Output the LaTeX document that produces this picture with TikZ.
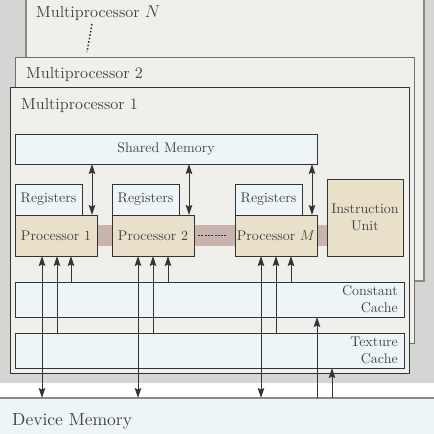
\documentclass[tikz,border=0pt]{standalone}
\usepackage{fontspec}
\setmainfont{lmroman10-regular.otf}[ItalicFont=lmroman10-italic.otf, BoldFont=lmroman10-bold.otf]
\usetikzlibrary{arrows.meta}
\definecolor{bggray}{HTML}{D3D6D2}
\definecolor{mpfill}{HTML}{EFEFEC}
\definecolor{lblue}{HTML}{EEF5F8}
\definecolor{beige}{HTML}{E8E0C8}
\definecolor{busc}{HTML}{C8B3AE}
\definecolor{linedark}{HTML}{333333}
\definecolor{textgray}{HTML}{444444}
\definecolor{framegray}{HTML}{8A8A8A}
\definecolor{framemid}{HTML}{707070}
\begin{document}
\begin{tikzpicture}[x=1pt,y=-1pt,
  frame/.style={draw=linedark, fill=mpfill, line width=0.9pt, inner sep=0pt, outer sep=0pt, anchor=north west},
  box/.style={draw=linedark, line width=0.9pt, inner sep=0pt, outer sep=0pt, anchor=north west, text=textgray, font=\fontsize{14}{17}\selectfont},
  bluebox/.style={box, fill=lblue},
  procbox/.style={box, fill=beige},
  biglabel/.style={anchor=base west, inner sep=0pt, text=textgray, font=\fontsize{16}{19}\selectfont},
  arr/.style={draw=linedark, line width=0.9pt, -{Stealth[length=10pt,width=6.5pt,inset=1.5pt]}},
  biarr/.style={draw=linedark, line width=0.9pt, {Stealth[length=10pt,width=6.5pt,inset=1.5pt]}-{Stealth[length=10pt,width=6.5pt,inset=1.5pt]}}
]
\useasboundingbox (0,0) rectangle (434,434);
% device background
\fill[bggray] (0,0) rectangle (434,383);
% multiprocessor frames
\node[frame, draw=framegray, line width=1.5pt, minimum width=398, minimum height=301] (mpN) at (26,-20) {};
\node[biglabel] (mpNl) at (36,17) {Multiprocessor $N$};
\coordinate (dA) at (92,24);
\coordinate (dB) at (87,52);
\draw[linedark, dotted, line width=1.5pt] (dA) -- (dB);
\node[frame, draw=framemid, minimum width=399, minimum height=286] (mp2) at (15,57) {};
\node[biglabel] (mp2l) at (26,78) {Multiprocessor 2};
\node[frame, minimum width=399, minimum height=286] (mp1) at (10,87) {};
\node[biglabel] (mp1l) at (21,109) {Multiprocessor 1};
% shared memory
\node[bluebox, minimum width=302, minimum height=30] (shm) at (15,134) {Shared Memory};
% bus
\node[fill=busc, inner sep=0pt, outer sep=0pt, anchor=north west, minimum width=230, minimum height=21] (bus) at (97,225) {};
% registers and processors
\node[bluebox, minimum width=67, minimum height=31] (r1) at (15,184) {Registers};
\node[procbox, minimum width=82, minimum height=41] (p1) at (15,215) {Processor 1};
\node[bluebox, minimum width=67, minimum height=31] (r2) at (112,184) {Registers};
\node[procbox, minimum width=82, minimum height=41] (p2) at (112,215) {Processor 2};
\node[bluebox, minimum width=67, minimum height=31] (rM) at (235,184) {Registers};
\node[procbox, minimum width=82, minimum height=41] (pM) at (235,215) {Processor $M$};
\node[procbox, minimum width=76, minimum height=77, align=center] (iu) at (327,179) {Instruction\\Unit};
\draw[linedark, line width=1pt, dash pattern=on 2pt off 1.3pt] ([xshift=4pt]p2.east) -- ([xshift=-9pt]pM.west);
% caches
\node[bluebox, minimum width=389, minimum height=35] (cc) at (15,282) {};
\node[anchor=east, align=right, inner sep=0pt, text=textgray, font=\fontsize{14}{17}\selectfont] (ccl) at (398,299.5) {Constant\\Cache};
\node[bluebox, minimum width=389, minimum height=35] (tc) at (15,333) {};
\node[anchor=east, align=right, inner sep=0pt, text=textgray, font=\fontsize{14}{17}\selectfont] (tcl) at (398,350.5) {Texture\\Cache};
% device memory
\node[draw=framegray, fill=lblue, line width=1.5pt, inner sep=0pt, outer sep=0pt, anchor=north west, minimum width=460, minimum height=60] (dm) at (-10,398) {};
\node[anchor=base west, inner sep=0pt, text=textgray, font=\fontsize{17.5}{20}\selectfont] (dml) at (12,425) {Device Memory};
% shared memory arrows
\draw[biarr] (shm.south -| 92,0) -- (p1.north -| 92,0);
\draw[biarr] (shm.south -| 189,0) -- (p2.north -| 189,0);
\draw[biarr] (shm.south -| 312,0) -- (pM.north -| 312,0);
% processor 1
\draw[biarr] (dm.north -| 42,0) -- (p1.south -| 42,0);
\draw[arr] (tc.north -| 57,0) -- (p1.south -| 57,0);
\draw[arr] (cc.north -| 71,0) -- (p1.south -| 71,0);
% processor 2
\draw[biarr] (dm.north -| 138,0) -- (p2.south -| 138,0);
\draw[arr] (tc.north -| 153,0) -- (p2.south -| 153,0);
\draw[arr] (cc.north -| 168,0) -- (p2.south -| 168,0);
% processor M
\draw[biarr] (dm.north -| 261,0) -- (pM.south -| 261,0);
\draw[arr] (tc.north -| 276,0) -- (pM.south -| 276,0);
\draw[arr] (cc.north -| 291,0) -- (pM.south -| 291,0);
% device memory to caches
\draw[arr] (dm.north -| 317,0) -- (cc.south -| 317,0);
\draw[arr] (dm.north -| 332,0) -- (tc.south -| 332,0);
\end{tikzpicture}
\end{document}
